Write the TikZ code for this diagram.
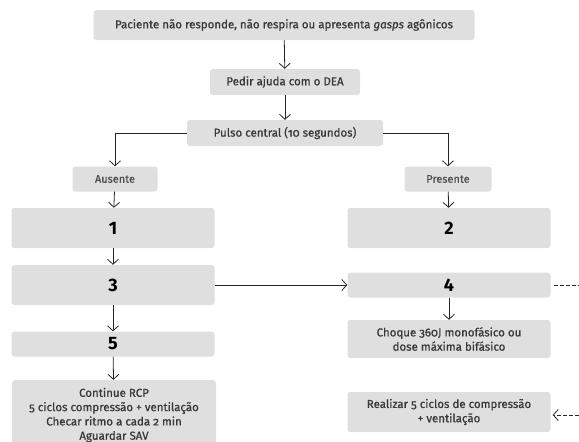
\documentclass[tikz,border=0pt]{standalone}
\usepackage{fontspec}
\setmainfont{Fira Sans}[Numbers=OldStyle]
\usetikzlibrary{arrows.meta}
\definecolor{boxgray}{HTML}{DFDFDF}
\definecolor{txtgray}{HTML}{383838}
\tikzset{
  box/.style={fill=boxgray, rounded corners=3pt, text=txtgray, align=center, inner sep=0pt,
    font=\fontsize{11.5}{14.3}\selectfont\addfontfeature{FakeBold=0.8}},
  smallbox/.style={box, text=black!70, font=\fontsize{11}{13}\selectfont\addfontfeature{FakeBold=0.5}},
  numbox/.style={box, text=black, font=\fontsize{18}{18}\selectfont\bfseries\addfontfeature{Numbers=Lining}},
  arr/.style={-{Straight Barb[length=5pt,width=11pt]}, line width=0.8pt, draw=black!85},
  dashline/.style={line width=0.8pt, draw=black!85, dash pattern=on 4pt off 2pt}
}
\begin{document}
\begin{tikzpicture}[x=1pt,y=-1pt]
\useasboundingbox (0,0) rectangle (579,442);
% top of the chart
\node[box, minimum width=381, minimum height=30] (pac) at (284,25)
  {Paciente não responde, não respira ou apresenta \textit{gasps} agônicos};
\node[box, minimum width=150, minimum height=26] (dea) at (285,82) {Pedir ajuda com o DEA};
\node[box, minimum width=196, minimum height=26] (pulso) at (285,133) {Pulso central (10 segundos)};
\node[smallbox, minimum width=85, minimum height=25] (aus) at (115,179) {Ausente};
\node[smallbox, minimum width=87, minimum height=25] (pres) at (448,179) {Presente};
% left column
\node[numbox, minimum width=203, minimum height=40] (n1) at (113,228) {1};
\node[numbox, minimum width=203, minimum height=40] (n3) at (113,285) {3};
\node[numbox, minimum width=203, minimum height=25] (n5) at (113,344) {5};
\node[box, minimum width=204, minimum height=70] (rcp) at (114,415)
  {Continue RCP\\5 ciclos compressão + ventilação\\Checar ritmo a cada 2 min\\Aguardar SAV};
% right column
\node[numbox, minimum width=203, minimum height=40] (n2) at (449,228) {2};
\node[numbox, minimum width=203, minimum height=25] (n4) at (449,285) {4};
\node[box, minimum width=203, minimum height=38] (choque) at (449,339)
  {Choque 360J monofásico ou\\dose máxima bifásico};
\node[box, minimum width=203, minimum height=40] (ciclos) at (449,412)
  {Realizar 5 ciclos de compressão\\+ ventilação};
\coordinate (out4) at (579,285);
\coordinate (inc) at (579,415);
% connectors
\foreach \a/\b in {pac/dea,dea/pulso,aus/n1,n1/n3,n3/n5,n5/rcp,pres/n2,n4/choque}
  \draw[arr] (\a) -- (\b);
\draw[arr] (pulso.west) -| (aus.north);
\draw[arr] (pulso.east) -| (pres.north);
\draw[arr] (n3.east) -- (n4.west);
\draw[dashline] (n4.east) ++(3,0) -- (out4);
\draw[dashline, arr] (inc) -- ([xshift=2]ciclos.east |- inc);
\end{tikzpicture}
\end{document}
